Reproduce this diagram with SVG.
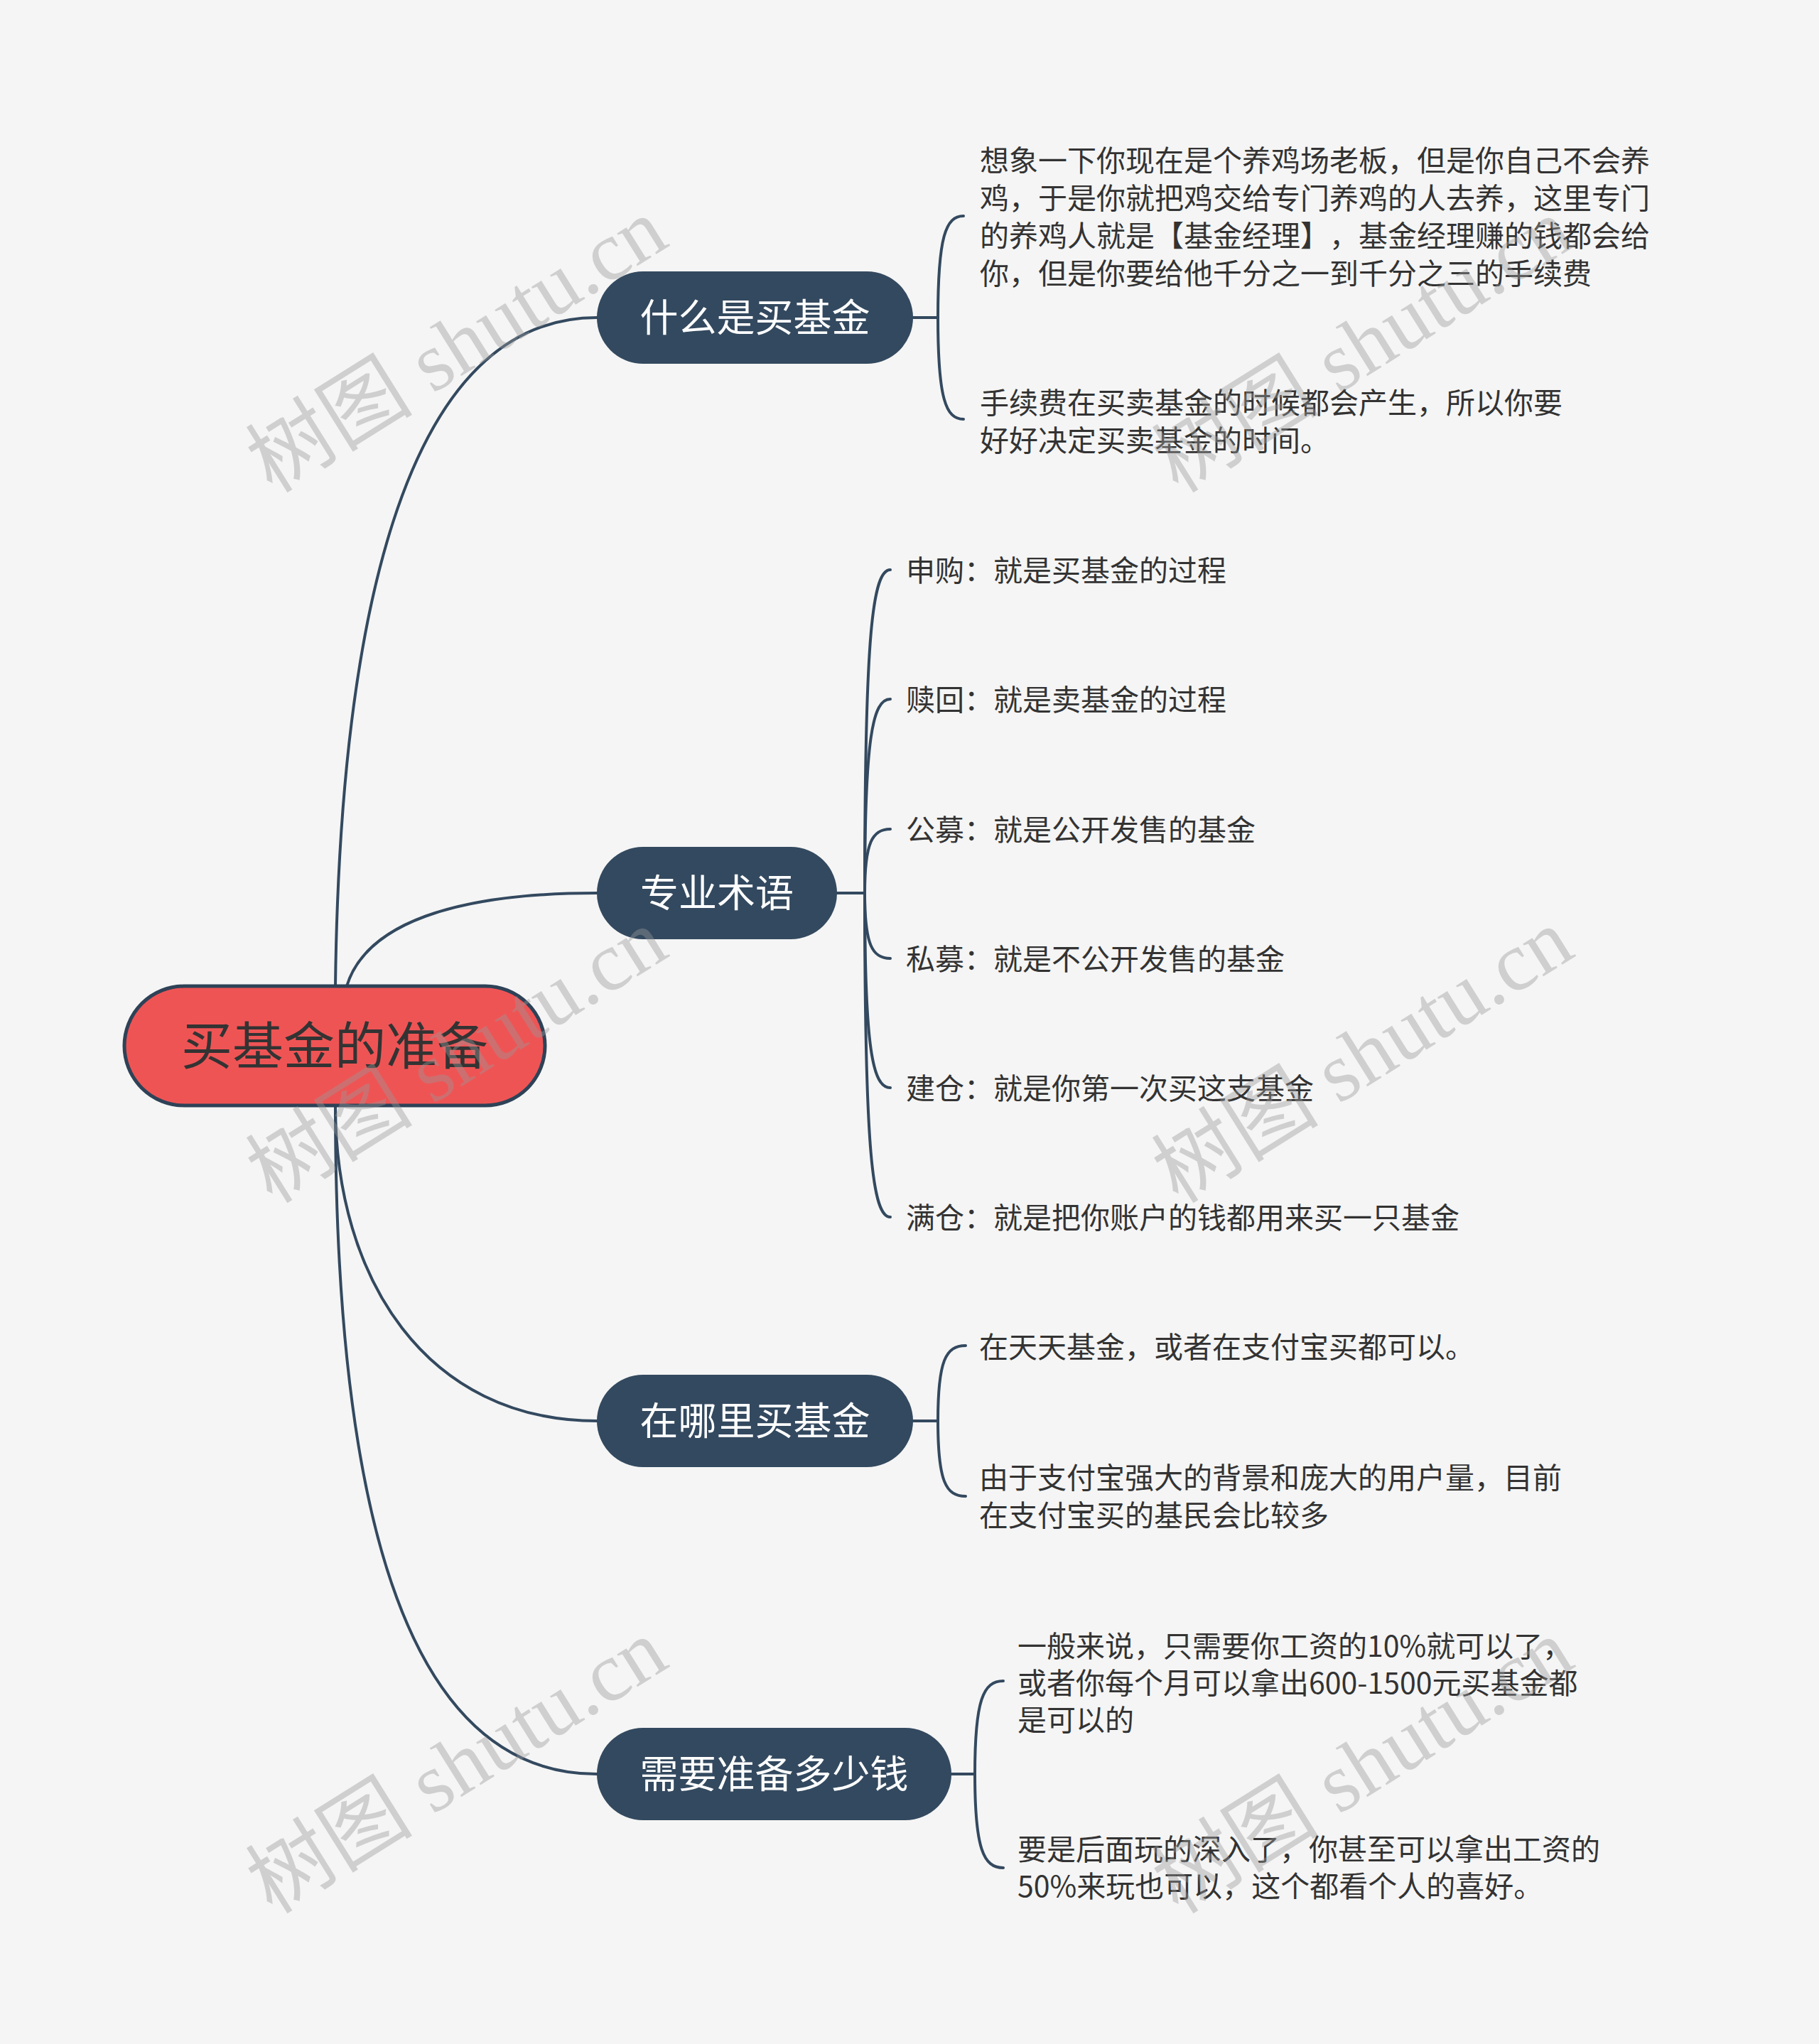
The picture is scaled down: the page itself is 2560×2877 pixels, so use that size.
<svg xmlns="http://www.w3.org/2000/svg" width="2560" height="2877" viewBox="0 0 2560 2877">
<style>
.bg{fill:#F5F5F5}
.conn{fill:none;stroke:#33495F;stroke-width:4;stroke-linecap:round}
.root{fill:#EF5455;stroke:#2E4257;stroke-width:5}
.rootText{font-family:"Noto Sans CJK SC","Noto Sans",sans-serif;font-size:72px;fill:#333333;text-anchor:middle}
.topic{fill:#33495F}
.topicText{font-family:"Noto Sans CJK SC","Noto Sans",sans-serif;font-size:54px;fill:#FFFFFF;text-anchor:middle}
.leaf{font-family:"Noto Sans CJK SC","Noto Sans",sans-serif;font-size:41px;fill:#333333;text-spacing-trim:space-all;font-feature-settings:"chws" 0,"halt" 0}
.wm{font-family:"Liberation Serif","Noto Sans CJK SC",serif;font-size:118px;fill:#999999;opacity:0.4;text-anchor:middle}
</style>
<rect class="bg" x="0" y="0" width="2560" height="2877"/>

<g id="connectors">
  <path class="conn" d="M472 1388 C478 900 560 447 840 447"/>
  <path class="conn" d="M488 1388 C515 1300 640 1257 840 1257"/>
  <path class="conn" d="M472 1556 C472 1800 600 2000 840 2000"/>
  <path class="conn" d="M472 1556 C472 2150 580 2497 840 2497"/>

  <path class="conn" d="M1285 447 H1320"/>
  <path class="conn" d="M1320 447 C1320 333 1331 304 1356 304"/>
  <path class="conn" d="M1320 447 C1320 561 1331 590 1356 590"/>

  <path class="conn" d="M1178 1257 H1217"/>
  <path class="conn" d="M1217 1257 C1217 893 1228 802 1253 802"/>
  <path class="conn" d="M1217 1257 C1217 1039 1228 984 1253 984"/>
  <path class="conn" d="M1217 1257 C1217 1185 1228 1167 1253 1167"/>
  <path class="conn" d="M1217 1257 C1217 1331 1228 1349 1253 1349"/>
  <path class="conn" d="M1217 1257 C1217 1476 1228 1531 1253 1531"/>
  <path class="conn" d="M1217 1257 C1217 1622 1228 1713 1253 1713"/>

  <path class="conn" d="M1285 2000 H1320"/>
  <path class="conn" d="M1320 2000 C1320 1915 1331 1894 1359 1894"/>
  <path class="conn" d="M1320 2000 C1320 2085 1331 2106 1359 2106"/>

  <path class="conn" d="M1339 2497 H1372"/>
  <path class="conn" d="M1372 2497 C1372 2392 1384 2366 1412 2366"/>
  <path class="conn" d="M1372 2497 C1372 2602 1384 2629 1412 2629"/>
</g>

<g id="root">
  <rect class="root" x="175" y="1388" width="592" height="168" rx="84" ry="84"/>
  <text class="rootText" x="471" y="1498">买基金的准备</text>
</g>

<g id="topic1">
  <rect class="topic" x="840" y="382" width="445" height="130" rx="65" ry="65"/>
  <text class="topicText" x="1062.5" y="467">什么是买基金</text>
</g>
<g id="topic2">
  <rect class="topic" x="840" y="1192" width="338" height="130" rx="65" ry="65"/>
  <text class="topicText" x="1009" y="1277">专业术语</text>
</g>
<g id="topic3">
  <rect class="topic" x="840" y="1935" width="445" height="130" rx="65" ry="65"/>
  <text class="topicText" x="1062.5" y="2020">在哪里买基金</text>
</g>
<g id="topic4">
  <rect class="topic" x="840" y="2432" width="499" height="130" rx="65" ry="65"/>
  <text class="topicText" x="1089.5" y="2517">需要准备多少钱</text>
</g>

<g id="t1a">
  <text class="leaf"><tspan x="1379" y="241">想象一下你现在是个养鸡场老板，但是你自己不会养</tspan><tspan x="1379" y="294">鸡，于是你就把鸡交给专门养鸡的人去养，这里专门</tspan><tspan x="1379" y="347">的养鸡人就是【基金经理】，基金经理赚的钱都会给</tspan><tspan x="1379" y="400">你，但是你要给他千分之一到千分之三的手续费</tspan></text>
</g>
<g id="t1b">
  <text class="leaf"><tspan x="1379" y="582">手续费在买卖基金的时候都会产生，所以你要</tspan><tspan x="1379" y="635">好好决定买卖基金的时间。</tspan></text>
</g>

<g id="t2a"><text class="leaf" x="1275" y="818">申购：就是买基金的过程</text></g>
<g id="t2b"><text class="leaf" x="1275" y="1000">赎回：就是卖基金的过程</text></g>
<g id="t2c"><text class="leaf" x="1275" y="1183">公募：就是公开发售的基金</text></g>
<g id="t2d"><text class="leaf" x="1275" y="1365">私募：就是不公开发售的基金</text></g>
<g id="t2e"><text class="leaf" x="1275" y="1547">建仓：就是你第一次买这支基金</text></g>
<g id="t2f"><text class="leaf" x="1275" y="1729">满仓：就是把你账户的钱都用来买一只基金</text></g>

<g id="t3a"><text class="leaf" x="1378" y="1911">在天天基金，或者在支付宝买都可以。</text></g>
<g id="t3b">
  <text class="leaf"><tspan x="1378" y="2095">由于支付宝强大的背景和庞大的用户量，目前</tspan><tspan x="1378" y="2148">在支付宝买的基民会比较多</tspan></text>
</g>

<g id="t4a">
  <text class="leaf"><tspan x="1432" y="2332">一般来说，只需要你工资的10%就可以了，</tspan><tspan x="1432" y="2384">或者你每个月可以拿出600-1500元买基金都</tspan><tspan x="1432" y="2436">是可以的</tspan></text>
</g>
<g id="t4b">
  <text class="leaf"><tspan x="1432" y="2618">要是后面玩的深入了，你甚至可以拿出工资的</tspan><tspan x="1432" y="2670">50%来玩也可以，这个都看个人的喜好。</tspan></text>
</g>

<g id="watermarks">
  <text class="wm" transform="translate(664 520) rotate(-32)">树图 shutu.cn</text>
  <text class="wm" transform="translate(1939 520) rotate(-32)">树图 shutu.cn</text>
  <text class="wm" transform="translate(664 1520) rotate(-32)">树图 shutu.cn</text>
  <text class="wm" transform="translate(1939 1520) rotate(-32)">树图 shutu.cn</text>
  <text class="wm" transform="translate(664 2520) rotate(-32)">树图 shutu.cn</text>
  <text class="wm" transform="translate(1939 2520) rotate(-32)">树图 shutu.cn</text>
</g>
</svg>
